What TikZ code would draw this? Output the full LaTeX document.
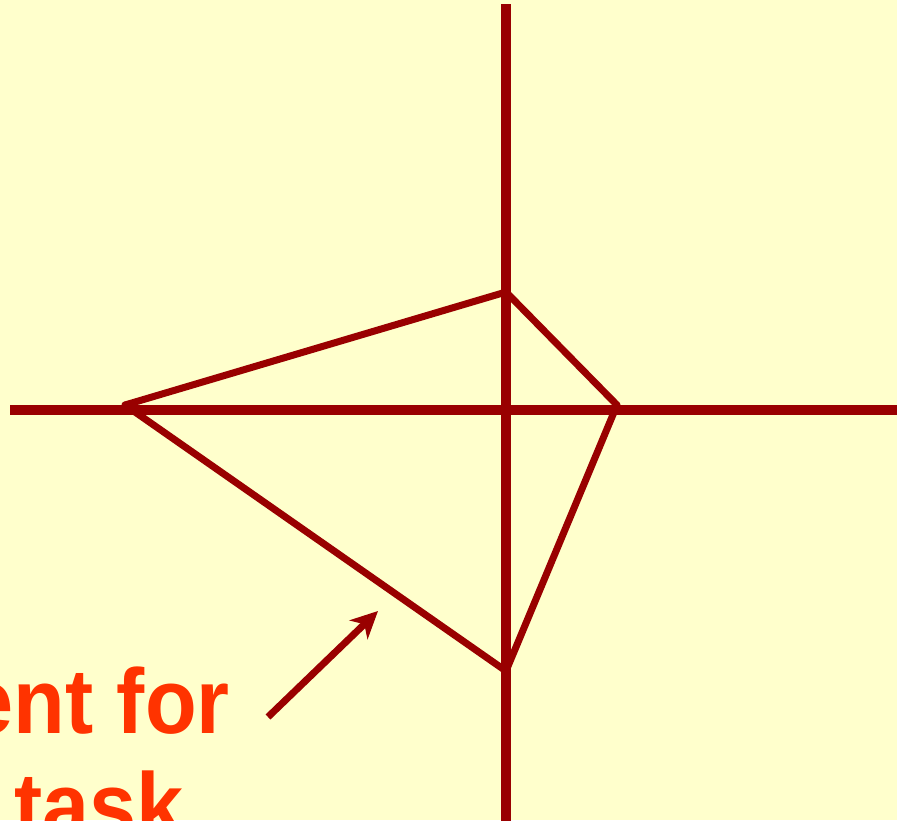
\documentclass[tikz,border=0pt]{standalone}
\usepackage{fontspec}
\setmainfont{Liberation Sans}
\usetikzlibrary{arrows.meta}
\definecolor{bgyellow}{HTML}{FFFFCC}
\definecolor{darkred}{HTML}{990000}
\definecolor{labelred}{HTML}{FF3300}
\tikzset{
  axis/.style={draw=darkred, line width=10pt},
  edge/.style={draw=darkred, line width=7pt, line cap=round},
  pointer/.style={draw=darkred, line width=7pt, -{Stealth[length=27pt,width=26pt,inset=8pt]}},
  label/.style={text=labelred, font=\fontsize{92}{100}\selectfont\bfseries, inner sep=0pt}
}
\begin{document}
\begin{tikzpicture}[x=1pt,y=-1pt]
\fill[bgyellow] (0,0) rectangle (897,820);
\useasboundingbox (0,0) rectangle (897,820);
\clip (0,0) rectangle (897,820);
% axes
\coordinate (vtop) at (506,4);
\coordinate (vbot) at (506,822);
\coordinate (hleft) at (10,410);
\coordinate (hright) at (899,410);
\draw[axis] (vtop) -- (vbot);
\draw[axis] (hleft) -- (hright);
% quadrilateral
\coordinate (L) at (125,405);
\coordinate (T) at (506,292);
\coordinate (R) at (617,405);
\coordinate (B) at (506,671);
\draw[edge] (L) -- (T);
\draw[edge] (T) -- (R);
\draw[edge] (R) -- (B);
\draw[edge] (B) -- (L);
% label text
\node[label, anchor=base east, xscale=0.92] (t1) at (230,733) {ent for};
\node[label, anchor=base west, xscale=0.92] (t2) at (14,837) {task};
% arrow
\coordinate (atail) at (268,717);
\coordinate (ahead) at (378,611);
\draw[pointer] (atail) -- (ahead);
\end{tikzpicture}
\end{document}
